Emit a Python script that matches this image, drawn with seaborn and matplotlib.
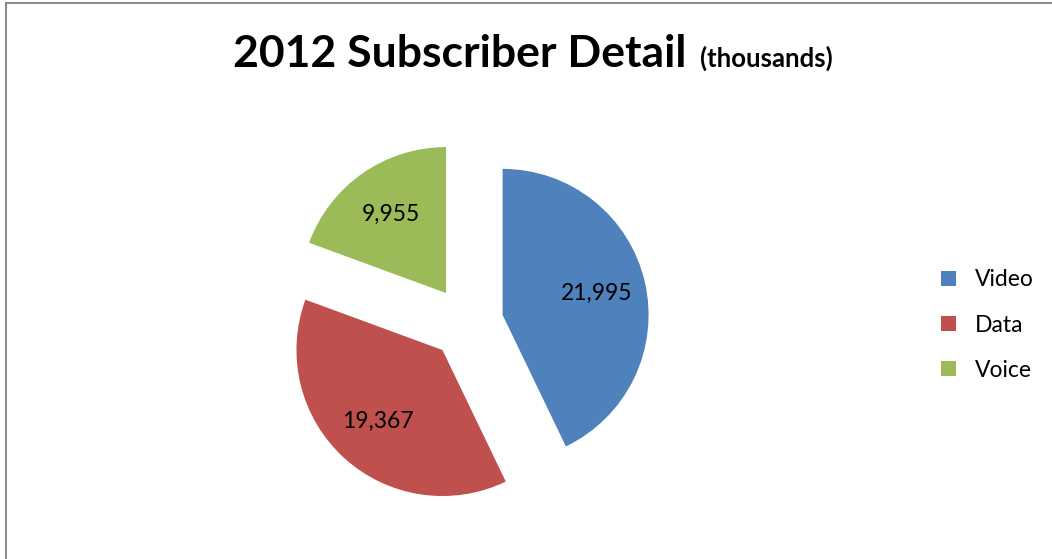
import matplotlib
matplotlib.use("Agg")
import matplotlib.pyplot as plt
import seaborn as sns
from matplotlib.lines import Line2D

categories = ["Video", "Data", "Voice"]
subscribers = [21995, 19367, 9955]
colors = ["#4F81BD", "#C0504D", "#9BBB59"]
title_main = "2012 Subscriber Detail"
title_unit = "(thousands)"

sns.set_theme(style="white")
plt.rcParams["font.family"] = ["Lato", "DejaVu Sans"]
plt.rcParams["text.color"] = "black"

W, H, DPI = 1052, 559, 100
fig = plt.figure(figsize=(W / DPI, H / DPI), dpi=DPI)
fig.patch.set_facecolor("white")

# pie area: centre and radius in pixels
cx, cy, r = 467, 323, 146
half = 200
ax = fig.add_axes([(cx - half) / W, (H - cy - half) / H, 2 * half / W, 2 * half / H])
lookup = iter(subscribers)

wedges, texts, autotexts = ax.pie(
    subscribers,
    colors=sns.color_palette(colors),
    startangle=90,
    counterclock=False,
    explode=[0.25] * len(subscribers),
    autopct=lambda p: f"{next(lookup):,}",
    pctdistance=0.66,
    radius=1.0,
    textprops=dict(fontsize=16.5, color="black"),
    wedgeprops=dict(linewidth=0),
)
lim = half / r
ax.set_xlim(-lim, lim)
ax.set_ylim(-lim, lim)
ax.set_aspect("auto")
ax.axis("off")

leg = fig.legend(
    wedges, categories,
    loc="center left",
    bbox_to_anchor=(920 / W, 1 - 325 / H),
    frameon=False,
    fontsize=16.5,
    handlelength=0.65,
    handleheight=0.65,
    handletextpad=0.85,
    labelspacing=1.05,
)
for t in leg.get_texts():
    t.set_color("black")

# title: bold heading followed by a smaller unit note
fig.canvas.draw()
renderer = fig.canvas.get_renderer()
baseline = 1 - 66.7 / H
t1 = fig.text(0, baseline, title_main, fontsize=32, fontweight="bold", va="baseline",
              ha="left", color="black")
t2 = fig.text(0, baseline, title_unit, fontsize=18.5, fontweight="bold", va="baseline",
              ha="left", color="black")
w1 = t1.get_window_extent(renderer).width
w2 = t2.get_window_extent(renderer).width
gap = 13
start = 533 - (w1 + gap + w2) / 2
t1.set_x(start / W)
t2.set_x((start + w1 + gap) / W)

# outer frame (left and top edges)
fig.add_artist(Line2D([5.5 / W, 5.5 / W], [0, 1 - 3 / H], color="#8c8c8c", linewidth=1.5,
                      transform=fig.transFigure))
fig.add_artist(Line2D([5.5 / W, 1], [1 - 3 / H, 1 - 3 / H], color="#8c8c8c", linewidth=1.5,
                      transform=fig.transFigure))

fig.savefig("out.png", dpi=DPI, facecolor="white")
